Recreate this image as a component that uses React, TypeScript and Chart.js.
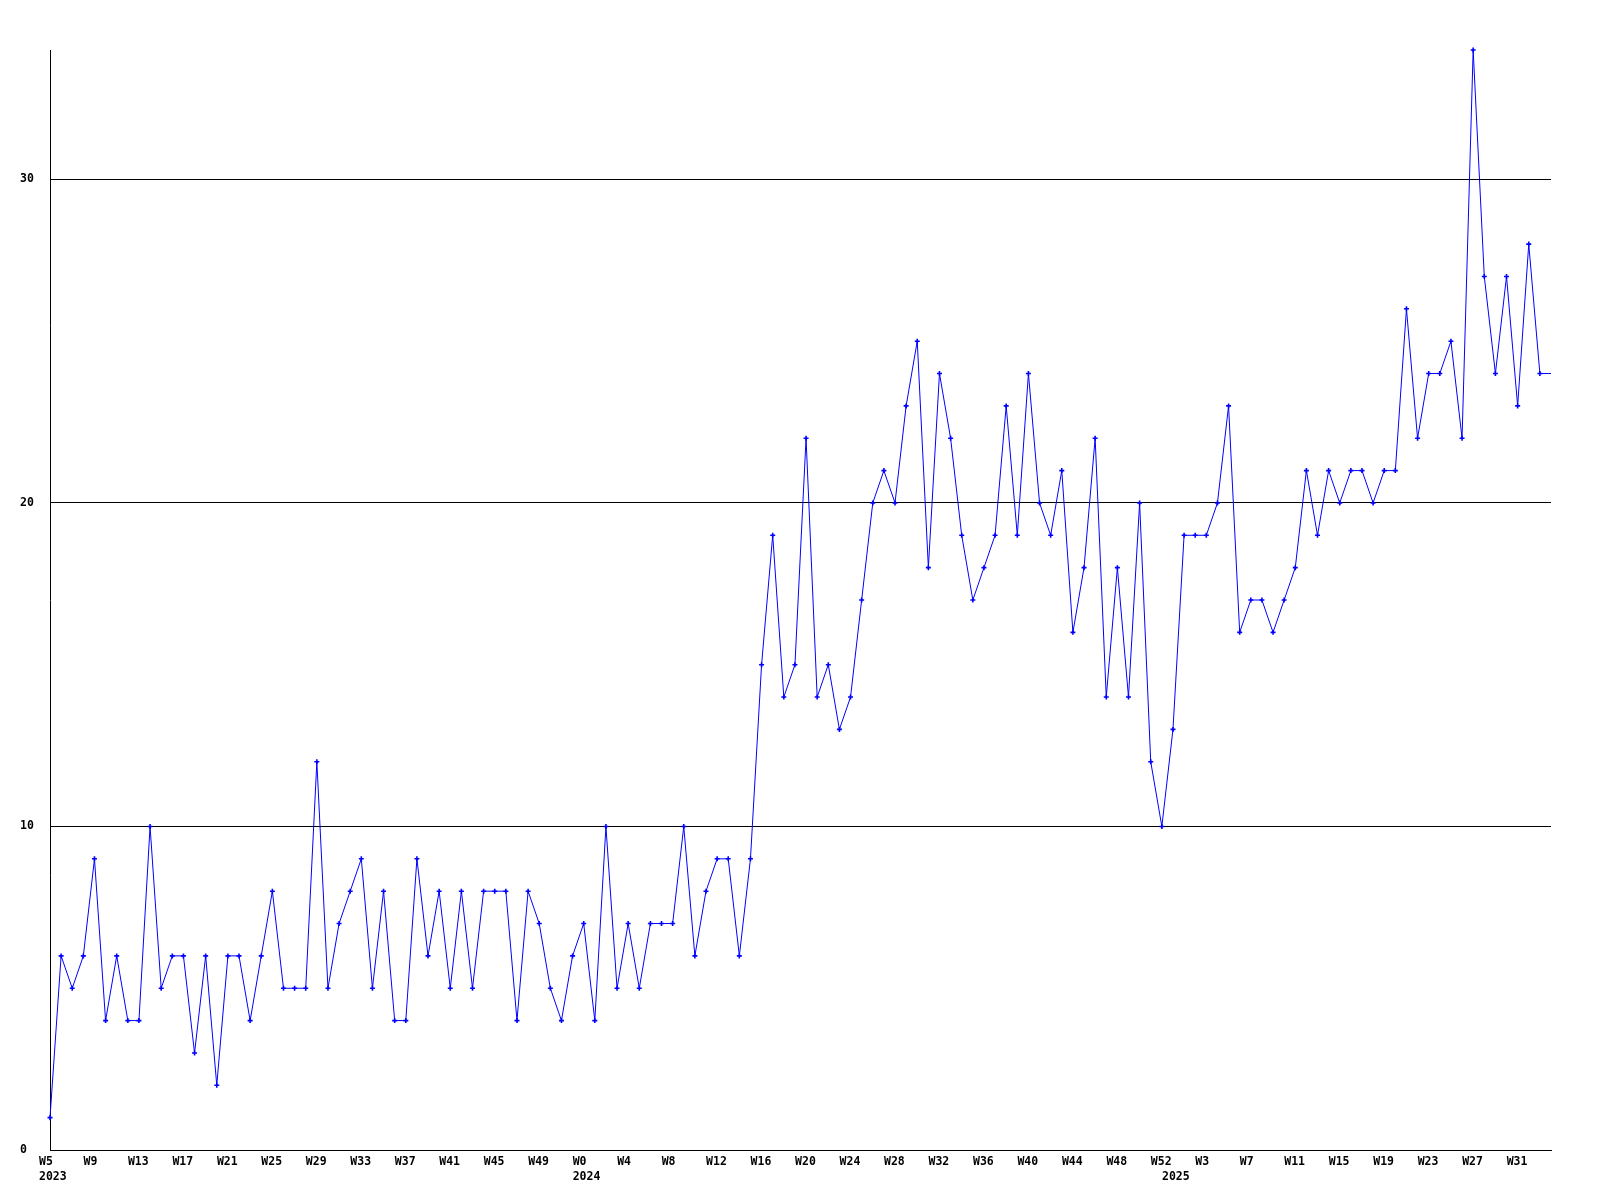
import React, { useEffect, useRef } from "react";
import { Chart, registerables } from "chart.js";

Chart.register(...registerables);

// Week ranges per year (first week shown .. last week shown)
const YEARS = [2023, 2024, 2025];
const FIRST_WEEK = [5, 0, 0];
const LAST_WEEK = [52, 52, 34];

// Weekly counts, W5 2023 .. W34 2025
const VALUES = [
  1, 6, 5, 6, 9, 4, 6, 4, 4, 10, 5, 6, 6, 3, 6, 2, 6, 6, 4, 6, 8, 5, 5, 5, 12, 5, 7, 8, 9, 5, 8, 4, 4, 9,
  6, 8, 5, 8, 5, 8, 8, 8, 4, 8, 7, 5, 4, 6, 7, 4, 10, 5, 7, 5, 7, 7, 7, 10, 6, 8, 9, 9, 6, 9,
  15, 19, 14, 15, 22, 14, 15, 13, 14, 17, 20, 21, 20, 23, 25, 18, 24, 22, 19, 17, 18, 19, 23, 19, 24, 20, 19, 21, 16, 18, 22, 14, 18,
  14, 20, 12, 10, 13, 19, 19, 19, 20, 23, 16, 17, 17, 16, 17, 18, 21, 19, 21, 20, 21, 21, 20, 21, 21,
  26, 22, 24, 24, 25, 22, 34, 27, 24, 27, 23, 28, 24, 24,
];

const Y_TICKS = [0, 10, 20, 30];
const Y_MAX = 34;
const LABEL_EVERY = 4;

// Build week labels and year-start positions from the ranges above
const WEEK_LABELS: string[] = [];
const YEAR_AT: Record<number, string> = {};
YEARS.forEach((y, k) => {
  YEAR_AT[WEEK_LABELS.length] = String(y);
  for (let w = FIRST_WEEK[k]; w <= LAST_WEEK[k]; w++) WEEK_LABELS.push("W" + w);
});

const FONT = { family: "'DejaVu Sans Mono', monospace", size: 11.5, weight: "bold" as const, lineHeight: 1.32 };

export default function App() {
  const ref = useRef<HTMLCanvasElement | null>(null);
  useEffect(() => {
    if (!ref.current) return;
    const n = VALUES.length;
    const chart = new Chart(ref.current, {
      type: "line",
      data: {
        labels: WEEK_LABELS,
        datasets: [
          {
            data: VALUES,
            borderColor: "#0000ff",
            backgroundColor: "#0000ff",
            borderWidth: 1,
            tension: 0,
            fill: false,
            pointStyle: "cross",
            pointRadius: VALUES.map((_, i) => (i === n - 1 ? 0 : 2.5)),
            pointBorderWidth: 1.6,
            pointBorderColor: "#0000ff",
            clip: false as any,
          },
        ],
      },
      options: {
        responsive: false,
        animation: false,
        devicePixelRatio: 1,
        layout: { padding: { left: 20, top: 50, right: 49, bottom: 0 } },
        plugins: { legend: { display: false }, tooltip: { enabled: false } },
        scales: {
          x: {
            type: "category",
            offset: false,
            grid: { display: false, drawTicks: false },
            border: { display: true, color: "#000", width: 1 },
            afterFit: (s: any) => {
              s.height = 50;
            },
            ticks: {
              autoSkip: false,
              maxRotation: 0,
              minRotation: 0,
              align: "start",
              labelOffset: -11,
              padding: 4,
              color: "#000",
              font: FONT,
              callback: (_v: any, i: number) => {
                const wk = i % LABEL_EVERY === 0 ? WEEK_LABELS[i] : "";
                const yr = YEAR_AT[i] || "";
                if (!wk && !yr) return null;
                return yr ? [wk, yr] : wk;
              },
            },
          },
          y: {
            min: 0,
            max: Y_MAX,
            grid: { color: "#000", lineWidth: 1, drawTicks: false },
            border: { display: true, color: "#000", width: 1 },
            afterFit: (s: any) => {
              s.width = 30;
            },
            afterBuildTicks: (s: any) => {
              s.ticks = Y_TICKS.map((v) => ({ value: v }));
            },
            ticks: {
              crossAlign: "far",
              padding: 0,
              color: "#000",
              font: FONT,
            },
          },
        },
      },
    });
    return () => chart.destroy();
  }, []);
  return (
    <div style={{ position: "fixed", left: 0, top: 0, width: 1600, height: 1200, background: "#fff" }}>
      <canvas ref={ref} width={1600} height={1200} style={{ width: 1600, height: 1200 }} />
    </div>
  );
}
